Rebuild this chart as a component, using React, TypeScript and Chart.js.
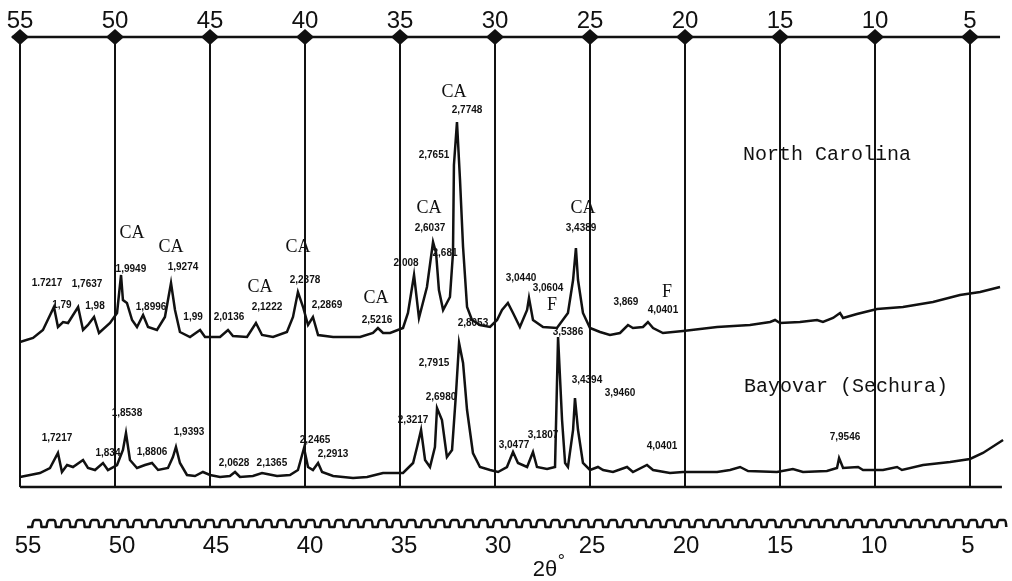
import React, { useEffect, useRef } from "react";
import { Chart, registerables } from "chart.js";

Chart.register(...registerables);

// ---- axis ticks (2θ, degrees) ----
const TWO_THETA_TICKS = [55, 50, 45, 40, 35, 30, 25, 20, 15, 10, 5];

// ---- North Carolina trace (2θ, intensity above its own baseline) ----
const NC_OFFSET = 140;
const NC_TWO_THETA = [
  55.0, 54.31, 53.79, 53.21, 53.0, 52.73, 52.47, 51.94, 51.68, 51.42, 51.1, 50.84, 50.26, 49.89, 49.68,
  49.58, 49.37, 49.1, 48.84, 48.52, 48.26, 47.79, 47.37, 47.05, 46.84, 46.58, 46.05, 45.52, 45.26, 44.84,
  44.47, 44.05, 43.79, 43.05, 42.58, 42.26, 41.68, 40.95, 40.63, 40.37, 40.1, 39.84, 39.58, 39.31, 38.52,
  37.1, 36.42, 36.16, 35.89, 35.52, 34.84, 34.58, 34.26, 34.0, 33.58, 33.26, 33.1, 32.95, 32.73, 32.37,
  32.21, 32.16, 32.0, 31.84, 31.68, 31.47, 31.21, 30.79, 30.26, 29.89, 29.63, 29.32, 29.05, 28.69, 28.31,
  28.21, 28.0, 27.47, 26.74, 26.16, 25.89, 25.74, 25.63, 25.37, 25.0, 24.47, 23.95, 23.42, 23.0, 22.74,
  22.21, 21.95, 21.68, 21.16, 20.1, 18.31, 16.58, 15.52, 15.26, 15.0, 13.95, 13.05, 12.74, 12.21, 11.84,
  11.68, 10.95, 9.89, 8.53, 6.95, 5.53, 4.47, 3.42,
];
const NC_INTENSITY = [
  5, 9, 17, 40, 20, 25, 24, 40, 17, 22, 30, 14, 24, 34, 72,
  47, 44, 27, 20, 32, 20, 17, 30, 64, 37, 15, 10, 17, 10, 10,
  10, 17, 11, 10, 24, 12, 10, 15, 30, 55, 40, 22, 30, 12, 10,
  10, 14, 19, 14, 14, 19, 34, 72, 29, 60, 105, 94, 57, 37, 50,
  94, 182, 225, 167, 100, 40, 27, 22, 20, 27, 37, 44, 34, 20, 37,
  49, 27, 20, 19, 34, 67, 99, 67, 34, 19, 15, 12, 14, 22, 19,
  20, 25, 19, 14, 16, 20, 22, 25, 27, 24, 25, 27, 25, 29, 34,
  29, 33, 38, 40, 45, 52, 55, 60,
];

// ---- Bayovar (Sechura) trace (2θ, intensity above the frame line) ----
const BAY_TWO_THETA = [
  55.0, 54.47, 53.95, 53.42, 53.0, 52.79, 52.52, 52.21, 51.68, 51.42, 51.05, 50.63, 50.37, 49.89, 49.58,
  49.42, 49.21, 48.84, 48.42, 48.05, 47.73, 47.21, 46.95, 46.79, 46.58, 46.21, 45.79, 45.37, 45.0, 44.47,
  43.95, 43.68, 43.42, 42.74, 42.26, 42.0, 41.47, 40.79, 40.37, 40.05, 39.84, 39.58, 39.31, 39.1, 38.52,
  37.47, 36.73, 35.89, 34.84, 34.31, 34.1, 33.89, 33.68, 33.42, 33.16, 33.05, 32.79, 32.53, 32.26, 32.05,
  31.89, 31.68, 31.47, 31.16, 30.79, 30.26, 29.84, 29.37, 29.05, 28.79, 28.31, 28.0, 27.79, 27.26, 26.84,
  26.68, 26.47, 26.31, 26.16, 25.89, 25.79, 25.63, 25.37, 25.0, 24.58, 24.31, 23.79, 23.05, 22.74, 22.0,
  21.68, 20.79, 20.1, 18.31, 17.63, 17.1, 16.68, 15.16, 14.32, 13.79, 12.53, 12.0, 11.89, 11.68, 10.89,
  10.63, 9.58, 8.84, 8.58, 7.47, 6.05, 5.0, 4.32, 3.26,
];
const BAY_INTENSITY = [
  10, 12, 14, 19, 34, 15, 22, 20, 27, 19, 17, 24, 17, 22, 37,
  54, 27, 19, 22, 24, 17, 19, 30, 40, 24, 12, 11, 15, 12, 10,
  11, 15, 10, 11, 14, 13, 11, 12, 17, 39, 20, 17, 24, 15, 11,
  9, 10, 14, 14, 24, 40, 57, 27, 20, 40, 79, 67, 30, 37, 94,
  144, 124, 77, 34, 20, 17, 15, 20, 35, 24, 20, 35, 20, 18, 20,
  150, 67, 24, 20, 57, 89, 57, 24, 17, 20, 17, 15, 20, 15, 22,
  17, 14, 15, 15, 17, 20, 16, 15, 18, 15, 16, 19, 29, 19, 20,
  17, 17, 20, 17, 22, 25, 28, 34, 47,
];

// ---- annotations: text, 2θ, level (frame units) ----
const D_LABELS: [string, number, number][] = [
  // North Carolina
  ["1.7217", 53.58, 204], ["1,7637", 51.47, 203], ["1,79", 52.79, 182], ["1,98", 51.05, 181],
  ["1,9949", 49.16, 218], ["1,8996", 48.1, 180], ["1,9274", 46.42, 220], ["1,99", 45.89, 170],
  ["2,0136", 44.0, 170], ["2,1222", 42.0, 180], ["2,2378", 40.0, 207], ["2,2869", 38.84, 182],
  ["2,5216", 36.21, 167], ["2,008", 34.68, 224], ["2,6037", 33.42, 259], ["2,681", 32.63, 234],
  ["2,7651", 33.21, 332], ["2,7748", 31.47, 377], ["3,0440", 28.63, 209], ["3,0604", 27.21, 199],
  ["3,4389", 25.47, 259], ["3,869", 23.11, 185], ["4,0401", 21.16, 177],
  // Bayovar
  ["1,7217", 53.05, 49], ["1,8538", 49.37, 74], ["1,834", 50.37, 34], ["1,8806", 48.05, 35],
  ["1,9393", 46.1, 55], ["2,0628", 43.73, 24], ["2,1365", 41.74, 24], ["2,2465", 39.47, 47],
  ["2,2913", 38.52, 33], ["2,3217", 34.31, 67], ["2,6980", 32.84, 90], ["2,7915", 33.21, 124],
  ["2,8053", 31.16, 164], ["3,0477", 29.0, 42], ["3,1807", 27.47, 52], ["3,5386", 26.16, 155],
  ["3,4394", 25.16, 107], ["3,9460", 23.42, 94], ["4,0401", 21.21, 41], ["7,9546", 11.58, 50],
];
const PHASE_LABELS: [string, number, number][] = [
  ["CA", 49.1, 254], ["CA", 47.05, 240], ["CA", 42.37, 200], ["CA", 40.37, 240], ["CA", 36.26, 189],
  ["CA", 33.47, 279], ["CA", 32.16, 395], ["F", 27.0, 182], ["CA", 25.37, 279], ["F", 20.95, 195],
];
const SAMPLE_LABELS: [string, number, number][] = [
  ["North Carolina", 12.53, 332],
  ["Bayovar (Sechura)", 11.53, 100],
];

const TOP_LABEL_LEVEL = 466;
const TOP_AXIS_LEVEL = 450;
const WAVE_LEVEL = -37;
const BOTTOM_LABEL_LEVEL = -59;
const AXIS_TITLE: [string, number, number] = ["2θ", 27.5, -83];

const INK = "#111";

const decor = {
  id: "xrdDecor",
  beforeDatasetsDraw(chart: any) {
    const { ctx } = chart;
    const x = chart.scales.x;
    const y = chart.scales.y;
    const yTop = y.getPixelForValue(TOP_AXIS_LEVEL);
    const yBot = y.getPixelForValue(0);
    ctx.save();
    ctx.strokeStyle = INK;
    ctx.lineWidth = 2;
    for (const t of TWO_THETA_TICKS) {
      const px = Math.round(x.getPixelForValue(t));
      ctx.beginPath();
      ctx.moveTo(px, yTop);
      ctx.lineTo(px, yBot);
      ctx.stroke();
    }
    ctx.lineWidth = 2.5;
    ctx.beginPath();
    ctx.moveTo(x.getPixelForValue(55.42), yTop);
    ctx.lineTo(x.getPixelForValue(3.42), yTop);
    ctx.stroke();
    ctx.beginPath();
    ctx.moveTo(x.getPixelForValue(55.0), yBot);
    ctx.lineTo(x.getPixelForValue(3.32), yBot);
    ctx.stroke();
    ctx.restore();
  },
  afterDatasetsDraw(chart: any) {
    const { ctx } = chart;
    const x = chart.scales.x;
    const x2 = chart.scales.x2;
    const y = chart.scales.y;
    ctx.save();
    ctx.fillStyle = INK;
    ctx.strokeStyle = INK;

    // top axis diamonds + labels
    const yTop = y.getPixelForValue(TOP_AXIS_LEVEL);
    ctx.font = '24px "Liberation Sans", Arial, sans-serif';
    ctx.textAlign = "center";
    ctx.textBaseline = "middle";
    for (const t of TWO_THETA_TICKS) {
      const px = Math.round(x.getPixelForValue(t));
      ctx.beginPath();
      ctx.moveTo(px - 9, yTop);
      ctx.lineTo(px, yTop - 8);
      ctx.lineTo(px + 9, yTop);
      ctx.lineTo(px, yTop + 8);
      ctx.closePath();
      ctx.fill();
      ctx.fillText(String(t), px, y.getPixelForValue(TOP_LABEL_LEVEL));
    }

    // bottom wavy scale
    const wy = y.getPixelForValue(WAVE_LEVEL);
    const xs = x2.getPixelForValue(55.05);
    const xe = x2.getPixelForValue(2.75);
    const period = 14.4;
    ctx.lineWidth = 2.6;
    ctx.lineJoin = "round";
    ctx.beginPath();
    ctx.moveTo(xs, wy + 3);
    for (let p = xs; p < xe - period; p += period) {
      ctx.lineTo(p + period * 0.35, wy + 3);
      ctx.quadraticCurveTo(p + period * 0.4, wy - 4, p + period * 0.55, wy - 4);
      ctx.lineTo(p + period * 0.85, wy - 4);
      ctx.quadraticCurveTo(p + period * 0.98, wy - 4, p + period, wy + 3);
    }
    ctx.stroke();

    // bottom labels
    ctx.font = '24px "Liberation Sans", Arial, sans-serif';
    for (const t of TWO_THETA_TICKS) {
      ctx.fillText(String(t), x2.getPixelForValue(t), y.getPixelForValue(BOTTOM_LABEL_LEVEL));
    }
    // axis title 2θ°
    const tx = x2.getPixelForValue(AXIS_TITLE[1]);
    const ty = y.getPixelForValue(AXIS_TITLE[2]);
    ctx.font = '22px "Liberation Sans", Arial, sans-serif';
    ctx.fillText(AXIS_TITLE[0], tx, ty);
    const w = ctx.measureText(AXIS_TITLE[0]).width;
    ctx.font = '18px "Liberation Sans", Arial, sans-serif';
    ctx.fillText("°", tx + w / 2 + 4, ty - 8);

    // d-spacing labels
    ctx.font = 'bold 10px "Liberation Sans", Arial, sans-serif';
    for (const [s, t, v] of D_LABELS) {
      ctx.fillText(s, x.getPixelForValue(t), y.getPixelForValue(v));
    }
    // phase labels
    ctx.font = '18px "Liberation Serif", "Times New Roman", serif';
    for (const [s, t, v] of PHASE_LABELS) {
      ctx.fillText(s, x.getPixelForValue(t), y.getPixelForValue(v));
    }
    // sample labels
    ctx.font = '20px "Liberation Mono", "Courier New", monospace';
    for (const [s, t, v] of SAMPLE_LABELS) {
      ctx.fillText(s, x.getPixelForValue(t), y.getPixelForValue(v));
    }
    ctx.restore();
  },
};

export default function App() {
  const ref = useRef<HTMLCanvasElement | null>(null);
  useEffect(() => {
    if (!ref.current) return;
    const nc = NC_TWO_THETA.map((t, i) => ({ x: t, y: NC_INTENSITY[i] + NC_OFFSET }));
    const bay = BAY_TWO_THETA.map((t, i) => ({ x: t, y: BAY_INTENSITY[i] }));
    const chart = new Chart(ref.current, {
      type: "line",
      data: {
        datasets: [
          { label: "North Carolina", data: nc, borderColor: INK, borderWidth: 2.5, pointRadius: 0, tension: 0, fill: false },
          { label: "Bayovar (Sechura)", data: bay, borderColor: INK, borderWidth: 2.5, pointRadius: 0, tension: 0, fill: false },
        ],
      },
      options: {
        animation: false,
        responsive: false,
        maintainAspectRatio: false,
        layout: { padding: 0 },
        plugins: { legend: { display: false }, tooltip: { enabled: false }, title: { display: false } },
        scales: {
          x: { type: "linear", min: 2.79, max: 56.05, reverse: true, display: false },
          x2: { type: "linear", min: 2.66, max: 56.49, reverse: true, display: false },
          y: { type: "linear", min: -94, max: 487, display: false },
        },
      },
      plugins: [decor],
    });
    return () => chart.destroy();
  }, []);
  return (
    <div style={{ position: "fixed", left: 0, top: 0, width: 1012, height: 581, background: "#fff" }}>
      <canvas ref={ref} width={1012} height={581} style={{ display: "block" }} />
    </div>
  );
}
